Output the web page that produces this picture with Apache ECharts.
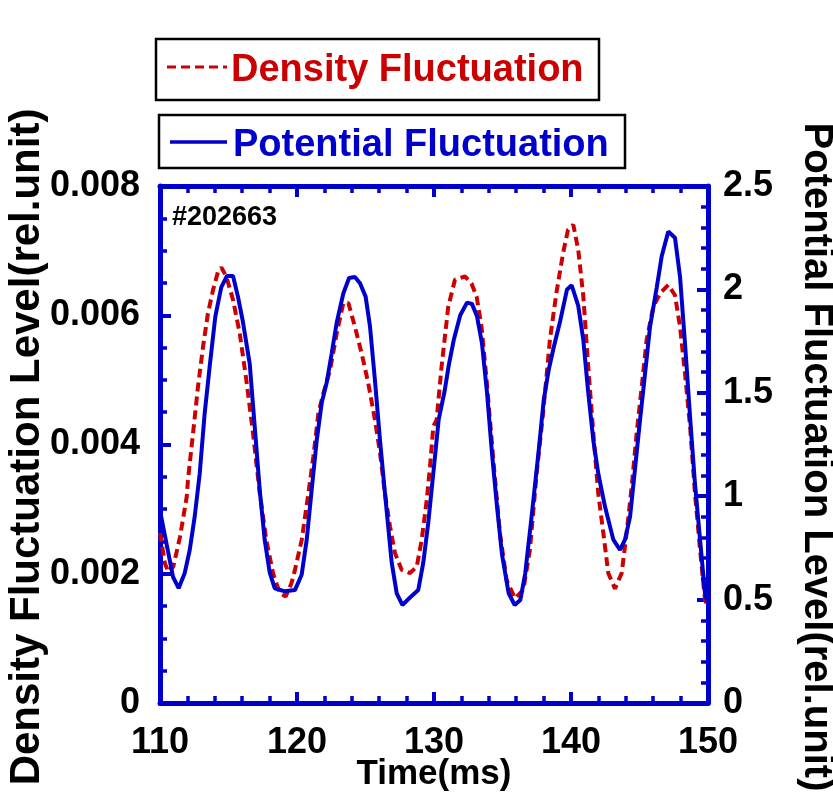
<!DOCTYPE html>
<html>
<head>
<meta charset="utf-8">
<title>Density and Potential Fluctuation</title>
<script src="https://cdn.jsdelivr.net/npm/echarts@6/dist/echarts.min.js"></script>
<style>
  html, body { margin: 0; padding: 0; background: #ffffff; }
  #chart { width: 833px; height: 795px; }
</style>
</head>
<body>
<div id="chart"></div>
<script>
// Shot #202663: density and potential fluctuation levels vs time (ms)
const densityTime = [
  110.00, 110.36, 110.61, 110.97, 111.46, 111.95, 112.04, 112.41, 112.77, 113.14,
  113.50, 113.87, 114.23, 114.48, 114.84, 115.33, 115.82, 116.30, 116.79, 117.28,
  117.76, 118.25, 118.74, 119.18, 119.59, 119.85, 120.34, 120.83, 121.19, 121.56,
  121.92, 122.41, 122.90, 123.38, 123.75, 124.23, 124.72, 125.20, 125.69, 126.06,
  126.42, 126.79, 127.15, 127.64, 128.25, 128.74, 129.10, 129.47, 129.71, 129.95,
  130.19, 130.55, 131.04, 131.53, 132.26, 132.74, 133.11, 133.47, 133.84, 134.33,
  134.81, 135.30, 135.91, 136.52, 137.00, 137.49, 137.96, 138.46, 138.93, 139.42,
  139.78, 140.17, 140.53, 140.90, 141.26, 141.63, 141.99, 142.36, 142.72, 143.21,
  143.70, 144.06, 144.43, 144.79, 145.16, 145.52, 146.01, 146.50, 147.10, 147.59,
  147.96, 148.32, 148.69, 149.05, 149.42, 149.78, 150.00
];
const densityLevel = [
  0.00263, 0.00216, 0.00203, 0.00211, 0.00257, 0.00319, 0.00345, 0.00417, 0.00489, 0.00551,
  0.00603, 0.00639, 0.00667, 0.00674, 0.00660, 0.00624, 0.00572, 0.00500, 0.00417, 0.00325,
  0.00252, 0.00201, 0.00170, 0.00165, 0.00185, 0.00206, 0.00252, 0.00324, 0.00381, 0.00448,
  0.00479, 0.00515, 0.00572, 0.00619, 0.00619, 0.00582, 0.00541, 0.00495, 0.00438, 0.00387,
  0.00324, 0.00273, 0.00232, 0.00206, 0.00201, 0.00211, 0.00252, 0.00314, 0.00366, 0.00428,
  0.00438, 0.00520, 0.00613, 0.00655, 0.00660, 0.00649, 0.00629, 0.00582, 0.00500, 0.00376,
  0.00263, 0.00190, 0.00162, 0.00175, 0.00237, 0.00355, 0.00448, 0.00562, 0.00634, 0.00696,
  0.00732, 0.00740, 0.00701, 0.00629, 0.00520, 0.00417, 0.00324, 0.00263, 0.00201, 0.00177,
  0.00201, 0.00263, 0.00335, 0.00417, 0.00489, 0.00562, 0.00613, 0.00634, 0.00647, 0.00631,
  0.00582, 0.00510, 0.00428, 0.00324, 0.00237, 0.00159, 0.00150
];

const potentialTime = [
  110.00, 110.95, 111.36, 111.80, 112.17, 112.53, 112.90, 113.26, 113.63, 114.04,
  114.47, 114.89, 115.33, 115.69, 116.06, 116.55, 116.91, 117.28, 117.64, 118.01,
  118.37, 119.10, 119.85, 120.34, 120.71, 121.07, 121.44, 121.80, 122.17, 122.53,
  122.90, 123.38, 123.80, 124.23, 124.60, 125.01, 125.33, 125.69, 126.06, 126.42,
  126.91, 127.28, 127.69, 128.25, 128.85, 129.22, 129.58, 130.07, 130.34, 130.78,
  131.07, 131.44, 131.92, 132.41, 132.77, 133.14, 133.50, 133.87, 134.23, 134.60,
  134.96, 135.45, 135.89, 136.30, 136.66, 137.15, 137.64, 138.01, 138.37, 138.74,
  139.22, 139.71, 140.05, 140.17, 140.53, 140.90, 141.26, 141.63, 141.99, 142.48,
  143.09, 143.58, 143.94, 144.31, 144.67, 145.04, 145.40, 145.77, 146.26, 146.62,
  147.10, 147.59, 147.96, 148.32, 148.69, 149.05, 149.42, 149.78, 150.00
];
const potentialLevel = [
  0.93, 0.61, 0.555, 0.627, 0.74, 0.90, 1.11, 1.40, 1.63, 1.87,
  2.01, 2.065, 2.065, 1.965, 1.84, 1.64, 1.34, 1.03, 0.79, 0.63,
  0.555, 0.54, 0.546, 0.62, 0.79, 1.03, 1.27, 1.45, 1.55, 1.69,
  1.84, 1.98, 2.055, 2.06, 2.03, 1.965, 1.82, 1.56, 1.27, 1.015,
  0.68, 0.53, 0.474, 0.51, 0.546, 0.68, 0.87, 1.19, 1.37, 1.51,
  1.63, 1.755, 1.876, 1.936, 1.93, 1.87, 1.74, 1.50, 1.21, 0.95,
  0.72, 0.53, 0.474, 0.498, 0.627, 0.917, 1.22, 1.465, 1.61, 1.72,
  1.85, 2.00, 2.02, 2.02, 1.92, 1.755, 1.50, 1.27, 1.11, 0.95,
  0.79, 0.74, 0.79, 0.90, 1.13, 1.37, 1.59, 1.82, 2.01, 2.16,
  2.28, 2.25, 2.06, 1.74, 1.385, 1.06, 0.79, 0.53, 0.48
];

const timeTicks = [110, 120, 130, 140, 150];
const densityTicks = [0, 0.002, 0.004, 0.006, 0.008];
const potentialTicks = [0, 0.5, 1, 1.5, 2, 2.5];

const shotLabel = '#202663';
const densityName = 'Density Fluctuation';
const potentialName = 'Potential Fluctuation';
const timeAxisName = 'Time(ms)';
const densityAxisName = 'Density Fluctuation Level(rel.unit)';
const potentialAxisName = 'Potential Fluctuation Level(rel.unit)';

const BLUE = '#0000cc';
const RED = '#cc0000';
const FONT = '"Liberation Sans", Arial, sans-serif';

function zipPairs(xs, ys) {
  return xs.map((x, i) => [x, ys[i]]);
}

const tickStyle = {
  show: true, inside: true, length: 11,
  lineStyle: { color: BLUE, width: 4 }
};
function minor(n) {
  return { show: true, splitNumber: n, length: 7, lineStyle: { color: BLUE, width: 3.5 } };
}
const labelBase = { color: '#000', fontSize: 36, fontWeight: 'bold', fontFamily: FONT };

const chart = echarts.init(document.getElementById('chart'), null, { renderer: 'canvas' });

chart.setOption({
  backgroundColor: '#ffffff',
  animation: false,
  grid: {
    left: 160, right: 125, top: 186, bottom: 92,
    containLabel: false, outerBoundsMode: 'none'
  },
  xAxis: [
    {
      type: 'value', position: 'bottom',
      min: timeTicks[0], max: timeTicks[timeTicks.length - 1],
      interval: timeTicks[1] - timeTicks[0],
      axisLine: { show: true, onZero: false, lineStyle: { color: BLUE, width: 5 } },
      axisTick: tickStyle,
      minorTick: minor(5),
      axisLabel: Object.assign({ margin: 22 }, labelBase),
      splitLine: { show: false }
    },
    {
      type: 'value', position: 'top',
      min: timeTicks[0], max: timeTicks[timeTicks.length - 1],
      interval: timeTicks[1] - timeTicks[0],
      axisLine: { show: true, onZero: false, lineStyle: { color: BLUE, width: 5 } },
      axisTick: tickStyle,
      minorTick: minor(5),
      axisLabel: { show: false },
      splitLine: { show: false }
    }
  ],
  yAxis: [
    {
      type: 'value', position: 'left',
      min: densityTicks[0], max: densityTicks[densityTicks.length - 1],
      interval: densityTicks[1] - densityTicks[0],
      axisLine: { show: true, onZero: false, lineStyle: { color: BLUE, width: 5 } },
      axisTick: tickStyle,
      minorTick: minor(4),
      axisLabel: Object.assign({ margin: 20, formatter: v => v === 0 ? '0' : v.toFixed(3) }, labelBase),
      splitLine: { show: false }
    },
    {
      type: 'value', position: 'right',
      min: potentialTicks[0], max: potentialTicks[potentialTicks.length - 1],
      interval: potentialTicks[1] - potentialTicks[0],
      axisLine: { show: true, onZero: false, lineStyle: { color: BLUE, width: 5 } },
      axisTick: tickStyle,
      minorTick: minor(5),
      axisLabel: Object.assign({ margin: 15 }, labelBase),
      splitLine: { show: false }
    }
  ],
  series: [
    {
      name: densityName, type: 'line', xAxisIndex: 0, yAxisIndex: 0,
      data: zipPairs(densityTime, densityLevel),
      showSymbol: false, symbol: 'none', smooth: false,
      lineStyle: { color: RED, width: 4, type: [9, 5] },
      z: 2
    },
    {
      name: potentialName, type: 'line', xAxisIndex: 0, yAxisIndex: 1,
      data: zipPairs(potentialTime, potentialLevel),
      showSymbol: false, symbol: 'none', smooth: false,
      lineStyle: { color: BLUE, width: 4 },
      z: 3
    }
  ],
  graphic: [
    // legend box for the density curve
    { type: 'rect', shape: { x: 156, y: 39, width: 443, height: 61 },
      style: { fill: '#fff', stroke: '#000', lineWidth: 2.5 }, z: 10 },
    { type: 'line', shape: { x1: 167, y1: 67, x2: 227, y2: 67 },
      style: { stroke: RED, lineWidth: 3, lineDash: [9, 5] }, z: 11 },
    { type: 'text', x: 231, y: 71, z: 11,
      style: { text: densityName, fill: RED, font: 'bold 38px ' + FONT,
               textAlign: 'left', textVerticalAlign: 'middle' } },
    // legend box for the potential curve
    { type: 'rect', shape: { x: 159, y: 115, width: 466, height: 53 },
      style: { fill: '#fff', stroke: '#000', lineWidth: 2.5 }, z: 10 },
    { type: 'line', shape: { x1: 170, y1: 142, x2: 227, y2: 142 },
      style: { stroke: BLUE, lineWidth: 3.5 }, z: 11 },
    { type: 'text', x: 233, y: 146, z: 11,
      style: { text: potentialName, fill: BLUE, font: 'bold 38px ' + FONT,
               textAlign: 'left', textVerticalAlign: 'middle' } },
    // shot number
    { type: 'text', x: 172, y: 218, z: 11,
      style: { text: shotLabel, fill: '#000', font: 'bold 27px ' + FONT,
               textAlign: 'left', textVerticalAlign: 'middle' } },
    // axis titles
    { type: 'text', x: 434, y: 774, z: 11,
      style: { text: timeAxisName, fill: '#000', font: 'bold 35px ' + FONT,
               textAlign: 'center', textVerticalAlign: 'middle' } },
    { type: 'text', x: 27, y: 447, rotation: Math.PI / 2, z: 11,
      style: { text: densityAxisName, fill: '#000', font: 'bold 42px ' + FONT,
               textAlign: 'center', textVerticalAlign: 'middle' } },
    { type: 'text', x: 816, y: 457, rotation: -Math.PI / 2, z: 11,
      style: { text: potentialAxisName, fill: '#000', font: 'bold 40px ' + FONT,
               textAlign: 'center', textVerticalAlign: 'middle' } }
  ]
});
</script>
</body>
</html>
